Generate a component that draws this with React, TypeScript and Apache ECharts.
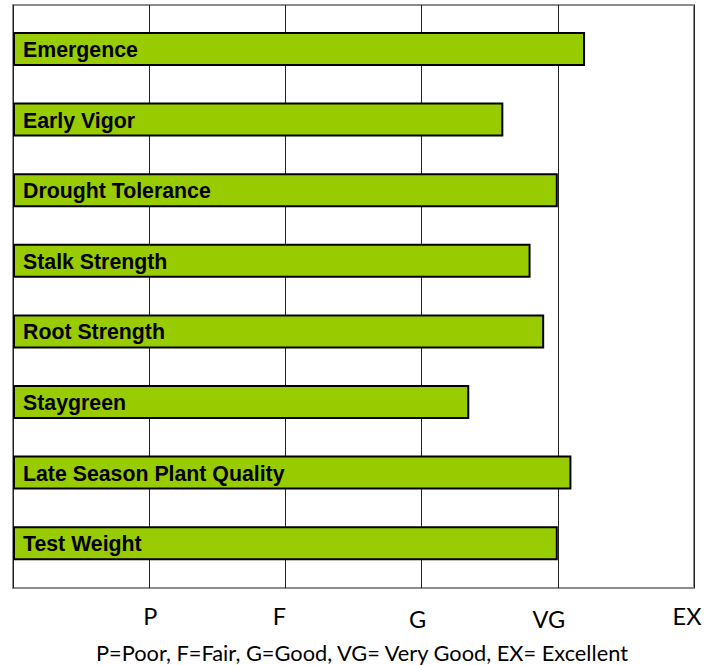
import React, { useEffect, useRef } from "react";
import * as echarts from "echarts";

const categories = [
  "Emergence",
  "Early Vigor",
  "Drought Tolerance",
  "Stalk Strength",
  "Root Strength",
  "Staygreen",
  "Late Season Plant Quality",
  "Test Weight",
];
const ratings = [4.2, 3.6, 4.0, 3.8, 3.9, 3.35, 4.1, 4.0];
const tickLabels = ["", "P", "F", "G", "VG", "EX"];
const footnote = "P=Poor, F=Fair, G=Good, VG= Very Good, EX= Excellent";

const tickFont = { fontFamily: "Lato", fontSize: 23.5, color: "#000000" };

export default function App() {
  const ref = useRef<HTMLDivElement>(null);
  useEffect(() => {
    if (!ref.current) return;
    const chart = echarts.init(ref.current, null, { renderer: "svg" });
    chart.setOption({
      animation: false,
      backgroundColor: "#ffffff",
      title: {
        text: footnote,
        left: 96,
        top: 641,
        padding: 0,
        textStyle: {
          fontFamily: "Lato",
          fontSize: 21.8,
          fontWeight: "normal",
          color: "#000000",
        },
      },
      grid: [
        {
          left: 13,
          right: 20,
          top: 5,
          bottom: 77,
          show: true,
          backgroundColor: "#ffffff",
          borderColor: "#8c8c8c",
          borderWidth: 2,
        },
        {
          left: 13,
          right: 20,
          top: 13.7,
          bottom: 86.5,
        },
      ],
      xAxis: [
        {
          type: "value",
          gridIndex: 0,
          min: 0,
          max: 5,
          interval: 1,
          axisLine: { show: false },
          axisTick: { show: false },
          splitLine: {
            show: true,
            lineStyle: { color: "#222222", width: 1 },
          },
          axisLabel: {
            margin: 16,
            ...tickFont,
            formatter: (v: number) => {
              const i = Math.round(v);
              const t = tickLabels[i] ?? "";
              return t ? `{t${i}|${t}}` : "";
            },
            rich: {
              t1: { ...tickFont, padding: [0, 0, 0, 2] },
              t2: { ...tickFont, padding: [0, 12, 0, 0] },
              t3: { ...tickFont, padding: [3, 8, 0, 0] },
              t4: { ...tickFont, padding: [3, 18, 0, 0] },
              t5: { ...tickFont, padding: [0, 14, 0, 0] },
            },
          },
        },
        {
          type: "value",
          gridIndex: 1,
          min: 0,
          max: 5,
          show: false,
        },
      ],
      yAxis: [
        {
          type: "value",
          gridIndex: 0,
          min: 0,
          max: 1,
          show: false,
        },
        {
          type: "category",
          gridIndex: 1,
          data: categories,
          inverse: true,
          show: false,
        },
      ],
      series: [
        {
          type: "bar",
          xAxisIndex: 1,
          yAxisIndex: 1,
          data: ratings,
          barWidth: 34,
          itemStyle: {
            color: "#99cc00",
            borderColor: "#000000",
            borderWidth: 2,
          },
          label: {
            show: true,
            position: "insideLeft",
            distance: 10,
            offset: [0, 1],
            formatter: "{b}",
            fontFamily: "Liberation Sans",
            fontWeight: "bold",
            fontSize: 21.3,
            color: "#000000",
          },
        },
      ],
    });
    return () => chart.dispose();
  }, []);
  return (
    <div
      ref={ref}
      style={{ position: "absolute", left: 0, top: 0, width: 714, height: 665 }}
    />
  );
}
